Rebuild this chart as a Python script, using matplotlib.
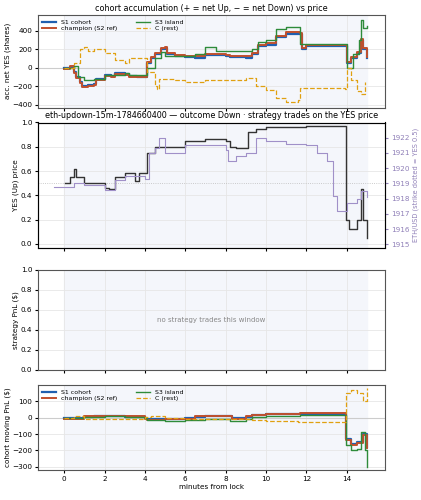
import matplotlib
matplotlib.use('Agg')
import matplotlib.pyplot as plt

# --- data (knots of step series, minutes from lock) ---
s1_t = [0, 0.3, 0.5, 0.6, 0.8, 0.9, 1.2, 1.5, 1.6, 2, 2.3, 2.5, 3, 3.2, 3.6, 4, 4.1, 4.3, 4.5, 4.8, 5, 5.1, 5.5, 6, 6.5, 7, 8, 8.2, 9, 9.3, 9.6, 10, 10.5, 11, 11.7, 11.8, 12, 13.9, 14, 14.2, 14.5, 14.7, 14.8, 15]
s1_v = [0, 10, -50, -100, -150, -200, -190, -180, -120, -80, -90, -60, -70, -90, -95, -95, 50, 100, 150, 200, 210, 150, 130, 120, 110, 140, 130, 120, 110, 150, 230, 250, 330, 370, 360, 200, 230, 230, 50, 100, 160, 300, 200, 100]
s2_v = [v + (12 if v > 0 else -10) for v in s1_v]
s3_t = [0, 0.5, 0.7, 1, 1.5, 2, 3, 3.2, 4, 4.1, 4.5, 4.8, 5, 6, 6.5, 7, 7.5, 9, 9.3, 9.6, 10, 10.5, 11, 11.6, 11.7, 13.9, 14, 14.3, 14.6, 14.7, 14.8, 15]
s3_v = [0, 20, -100, -130, -120, -80, -60, -80, -80, 0, 100, 170, 130, 130, 150, 220, 180, 180, 200, 280, 300, 420, 440, 440, 260, 260, 0, 150, 300, 520, 430, 450]
c_t = [0, 0.5, 0.8, 1, 1.2, 1.5, 2, 2.5, 3, 3.2, 4, 4.1, 4.5, 4.6, 4.7, 5.5, 6, 7, 8, 9, 9.5, 10, 10.5, 11, 11.6, 11.7, 13.9, 14, 14.2, 14.5, 14.7, 14.9]
c_v = [0, 50, 200, 220, 180, 200, 160, 80, 50, 100, 100, -50, -200, -230, -120, -130, -150, -130, -130, -110, -200, -240, -330, -370, -350, -220, -230, 0, -130, -250, -280, -150]

yes_t = [0.05, 0.3, 0.5, 0.6, 1, 1.5, 2, 2.2, 2.5, 3, 3.5, 3.7, 4, 4.1, 4.5, 5, 6, 7, 8, 8.2, 8.5, 9, 9.1, 9.5, 10, 11, 12, 13.9, 13.95, 14.1, 14.5, 14.7, 14.8, 15]
yes_v = [0.5, 0.55, 0.62, 0.55, 0.5, 0.5, 0.46, 0.45, 0.55, 0.58, 0.52, 0.58, 0.58, 0.75, 0.8, 0.8, 0.85, 0.86, 0.85, 0.8, 0.79, 0.79, 0.92, 0.95, 0.96, 0.96, 0.97, 0.97, 0.2, 0.12, 0.2, 0.45, 0.2, 0.05]
eth_t = [-0.5, 0, 0.5, 1, 2, 2.5, 3, 4, 4.2, 4.5, 4.7, 5, 6, 7, 8, 8.1, 8.5, 9, 9.5, 10, 11, 12, 12.5, 13, 13.3, 13.5, 14, 14.5, 14.7, 15]
eth_v = [1918.8, 1918.8, 1919, 1918.9, 1918.6, 1919.2, 1919.5, 1919.3, 1921, 1921.3, 1922, 1921, 1921.5, 1921.5, 1921.2, 1920.5, 1920.8, 1921, 1922, 1921.8, 1921.6, 1921.5, 1921, 1920.5, 1918.2, 1917.2, 1917.7, 1918, 1918.5, 1918.1]

p1_t = [0, 1, 1.5, 2, 3, 4, 4.1, 5, 6, 6.5, 7, 8, 8.3, 9, 9.3, 10, 11, 11.7, 13.9, 13.95, 14.2, 14.5, 14.8, 15]
p1_v = [0, 5, 10, 10, 5, 0, -10, -5, 0, 5, 10, 10, 0, 5, 15, 20, 20, 25, 25, -130, -160, -150, -100, -180]
p2_v = [v + (3 if v > 0 else -5) for v in p1_v]
p3_t = [0, 1, 2, 3, 4, 4.1, 5, 6, 7, 8, 8.2, 9, 9.3, 10, 11, 11.7, 13.9, 13.95, 14.2, 14.5, 14.7, 14.9, 15]
p3_v = [0, 5, 10, 5, 0, -15, -20, -15, -10, -10, -20, -10, 5, 10, 10, 15, 15, -170, -195, -190, -90, -200, -300]
pc_t = [0, 0.5, 1, 2, 3, 4, 4.3, 5, 6, 8, 9, 9.3, 10, 11, 11.6, 13.9, 13.95, 14.2, 14.5, 14.8, 15]
pc_v = [0, 10, -10, -5, -5, 5, 10, 0, -5, -10, -10, -15, -20, -20, -25, -25, 150, 170, 150, 100, 180]

C_S1, C_S2, C_S3, C_C = '#2060b0', '#c0502e', '#2e8b3a', '#e0a010'
FS = 5.2

fig = plt.figure(figsize=(4.21, 5.0), dpi=100)
L, W = 0.09, 0.825
ax1 = fig.add_axes([L, 0.785, W, 0.185])
ax2 = fig.add_axes([L, 0.505, W, 0.25])
ax3 = fig.add_axes([L, 0.26, W, 0.20])
ax4 = fig.add_axes([L, 0.06, W, 0.17])

for ax in (ax1, ax2, ax3, ax4):
    ax.axvspan(0, 15, color='#f4f6fb', zorder=0)
    ax.grid(True, color='#e6e6e6', lw=0.6)
    ax.set_xlim(-1.3, 15.9)
    ax.set_xticks(range(0, 16, 2))
    ax.tick_params(labelsize=FS, length=2.5, pad=1.5)
    for s in ax.spines.values():
        s.set_color('#555555')
    if ax is not ax4:
        ax.tick_params(labelbottom=False)

ax1.axhline(0, color='#cccccc', lw=0.8)
ax1.step(s1_t, s1_v, where='post', color=C_S1, lw=1.6, label='S1 cohort')
ax1.step(s1_t, s2_v, where='post', color=C_S2, lw=1.4, label='champion (S2 ref)')
ax1.step(s3_t, s3_v, where='post', color=C_S3, lw=1.0, label='S3 island')
ax1.step(c_t, c_v, where='post', color=C_C, lw=0.9, ls='--', label='C (rest)')
ax1.set_ylim(-430, 570)
ax1.set_yticks([-400, -200, 0, 200, 400])
ax1.set_ylabel('acc. net YES (shares)', fontsize=FS, labelpad=1)
ax1.set_title('cohort accumulation (+ = net Up, − = net Down) vs price', fontsize=5.8, pad=3)
ax1.legend(loc='upper left', ncol=2, fontsize=4.5, frameon=False, handlelength=2.2,
           columnspacing=3, borderaxespad=0.3, labelspacing=0.2)

ax2.axhline(0.5, color='#bbbbbb', lw=0.6, ls=':')
ax2.step(yes_t, yes_v, where='post', color='#333333', lw=1.0)
ax2.set_ylim(-0.03, 1.0)
ax2.set_ylabel('YES (Up) price', fontsize=FS, labelpad=1)
ax2.set_title('eth-updown-15m-1784660400 — outcome Down · strategy trades on the YES price', fontsize=5.8, pad=3)
tw = ax2.twinx()
tw.plot(eth_t, eth_v, color='#a090c8', lw=0.8, drawstyle='steps-post')
tw.set_ylim(1914.8, 1923.0)
tw.set_yticks(range(1915, 1923))
tw.tick_params(labelsize=FS, colors='#9080b8', length=2.5, pad=1.5)
tw.set_ylabel('ETH/USD (strike dotted = YES 0.5)', fontsize=4.8, color='#9080b8', labelpad=2)

ax3.set_ylim(0, 1)
ax3.set_ylabel('strategy PnL ($)', fontsize=FS, labelpad=1)
ax3.text(7.3, 0.5, 'no strategy trades this window', fontsize=5, color='#888888', ha='center', va='center')

ax4.axhline(0, color='#cccccc', lw=0.8)
ax4.step(p1_t, p1_v, where='post', color=C_S1, lw=1.6, label='S1 cohort')
ax4.step(p1_t, p2_v, where='post', color=C_S2, lw=1.4, label='champion (S2 ref)')
ax4.step(p3_t, p3_v, where='post', color=C_S3, lw=1.0, label='S3 island')
ax4.step(pc_t, pc_v, where='post', color=C_C, lw=0.9, ls='--', label='C (rest)')
ax4.set_ylim(-320, 200)
ax4.set_yticks([-300, -200, -100, 0, 100])
ax4.set_ylabel('cohort moving PnL ($)', fontsize=FS, labelpad=1)
ax4.set_xlabel('minutes from lock', fontsize=FS, labelpad=2)
ax4.legend(loc='upper left', ncol=2, fontsize=4.5, frameon=False, handlelength=2.2,
           columnspacing=3, borderaxespad=0.3, labelspacing=0.2)

fig.savefig('out.png', dpi=100)
